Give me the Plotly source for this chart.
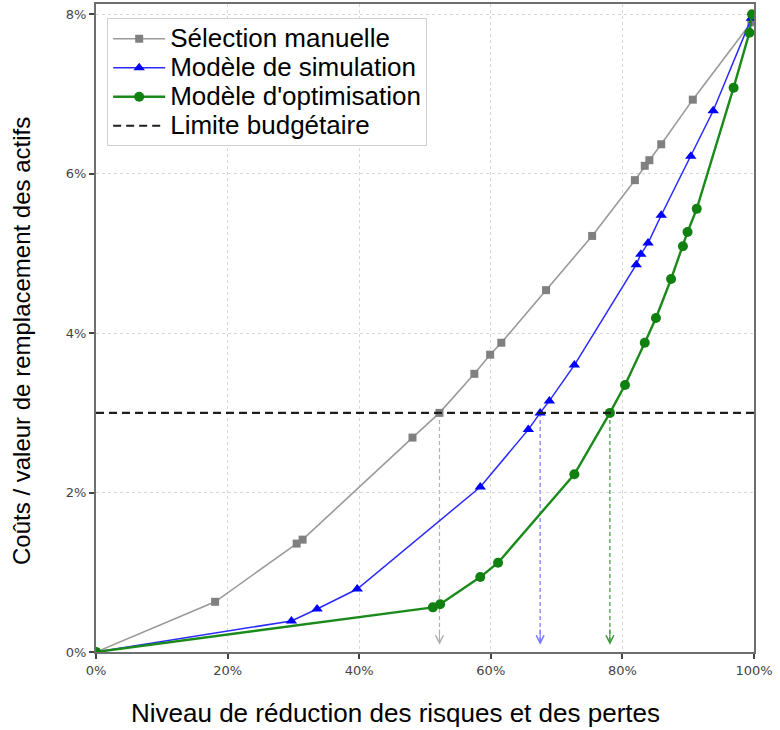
import plotly.graph_objects as go

# Data (percent units)
manual_x = [0, 18.1, 30.5, 31.4, 48.1, 52.2, 57.5, 59.9, 61.6, 68.4, 75.4, 81.9, 83.4, 84.1, 85.9, 90.7, 99.6]
manual_y = [0, 0.63, 1.36, 1.41, 2.69, 3.0, 3.49, 3.73, 3.88, 4.54, 5.22, 5.92, 6.10, 6.17, 6.37, 6.93, 7.90]

sim_x = [0, 29.7, 33.6, 39.7, 58.4, 65.7, 67.5, 68.9, 72.7, 82.1, 82.8, 83.9, 85.9, 90.4, 93.8, 99.6]
sim_y = [0, 0.39, 0.54, 0.79, 2.07, 2.79, 3.0, 3.15, 3.60, 4.86, 4.99, 5.13, 5.48, 6.22, 6.79, 7.95]

opt_x = [0, 51.2, 52.3, 58.4, 61.1, 72.7, 78.1, 80.4, 83.4, 85.1, 87.4, 89.2, 89.9, 91.3, 96.9, 99.3, 99.7]
opt_y = [0, 0.56, 0.60, 0.94, 1.12, 2.23, 3.0, 3.35, 3.88, 4.19, 4.68, 5.09, 5.27, 5.56, 7.08, 7.77, 8.0]

budget = 3.0
budget_x = [0, 100]
crossings = [52.2, 67.5, 78.1]
cross_colors = ["#b0b0b0", "#7878ff", "#3a9a3a"]

x_ticks = [0, 20, 40, 60, 80, 100]
x_labels = ["0%", "20%", "40%", "60%", "80%", "100%"]
y_ticks = [0, 2, 4, 6, 8]
y_labels = ["0%", "2%", "4%", "6%", "8%"]

series_names = ["Sélection manuelle", "Modèle de simulation", "Modèle d'optimisation", "Limite budgétaire"]
x_title = "Niveau de réduction des risques et des pertes"
y_title = "Coûts / valeur de remplacement des actifs"


def big(t):
    return "<span style='font-size:26px'>" + t + "</span>"


fig = go.Figure()

fig.add_trace(go.Scatter(
    x=manual_x, y=manual_y, mode="lines+markers", name=big(series_names[0]),
    line=dict(color="#9a9a9a", width=1.6),
    marker=dict(symbol="square", size=8, color="#808080"),
))
fig.add_trace(go.Scatter(
    x=sim_x, y=sim_y, mode="lines+markers", name=big(series_names[1]),
    line=dict(color="#2a2aff", width=1.5),
    marker=dict(symbol="triangle-up", size=10, color="#0000ff"),
))
fig.add_trace(go.Scatter(
    x=opt_x, y=opt_y, mode="lines+markers", name=big(series_names[2]),
    line=dict(color="#1a8a1a", width=2.4),
    marker=dict(symbol="circle", size=10, color="#108010"),
))
fig.add_trace(go.Scatter(
    x=budget_x, y=[budget, budget], mode="lines", name=big(series_names[3]),
    line=dict(color="#1e1e1e", width=2.2, dash="8px,5px"),
))

# vertical dashed drop lines with arrowheads
for cx, col in zip(crossings, cross_colors):
    fig.add_shape(type="line", x0=cx, x1=cx, y0=budget, y1=0.1,
                  xref="x", yref="y", line=dict(color=col, width=1.2, dash="4px,3px"),
                  layer="below")
    fig.add_annotation(x=cx, y=0.09, ax=cx, ay=0.3, xref="x", yref="y",
                       axref="x", ayref="y", text="", showarrow=True,
                       arrowhead=5, arrowsize=1.4, arrowwidth=1.1, arrowcolor=col)

# axis titles
fig.add_annotation(x=0.5, y=0, xref="paper", yref="paper", text=x_title,
                   showarrow=False, xanchor="center", yanchor="middle",
                   xshift=-30, yshift=-61,
                   font=dict(size=26, family="Liberation Sans, Arial, sans-serif", color="black"))
fig.add_annotation(x=0, y=0.48, xref="paper", yref="paper", text=y_title,
                   showarrow=False, xanchor="center", yanchor="middle", xshift=-74,
                   textangle=-90,
                   font=dict(size=24, family="Liberation Sans, Arial, sans-serif", color="black"))

fig.update_layout(
    width=780, height=730,
    margin=dict(l=96, r=26, t=4, b=78),
    paper_bgcolor="white", plot_bgcolor="white",
    font=dict(family="Liberation Sans, Arial, sans-serif", color="black"),
    showlegend=True,
    legend=dict(
        x=0.017, y=0.978, xanchor="left", yanchor="top",
        bgcolor="white", bordercolor="#d0d0d0", borderwidth=1,
        font=dict(size=20, family="Liberation Sans, Arial, sans-serif", color="black"),
        itemwidth=52, tracegroupgap=0,
    ),
)

fig.update_xaxes(
    range=[0, 100], tickvals=x_ticks, ticktext=x_labels, automargin=False,
    showline=True, linecolor="#6e6e6e", linewidth=2, mirror=True,
    ticks="outside", ticklen=5, tickcolor="#444", tickwidth=1.5,
    showgrid=True, gridcolor="#d8d8d8", griddash="dot", gridwidth=1,
    zeroline=False,
    tickfont=dict(family="DejaVu Sans", size=13, color="#444"),
)
fig.update_yaxes(
    range=[0, 8.13], tickvals=y_ticks, ticktext=y_labels, automargin=False,
    showline=True, linecolor="#6e6e6e", linewidth=2, mirror=True,
    ticks="outside", ticklen=5, tickcolor="#444", tickwidth=1.5,
    showgrid=True, gridcolor="#d8d8d8", griddash="dot", gridwidth=1,
    zeroline=False,
    tickfont=dict(family="DejaVu Sans", size=13, color="#444"),
)

fig.write_html("out.html", config={"displayModeBar": False},
               post_script="document.body.style.margin='0';")
